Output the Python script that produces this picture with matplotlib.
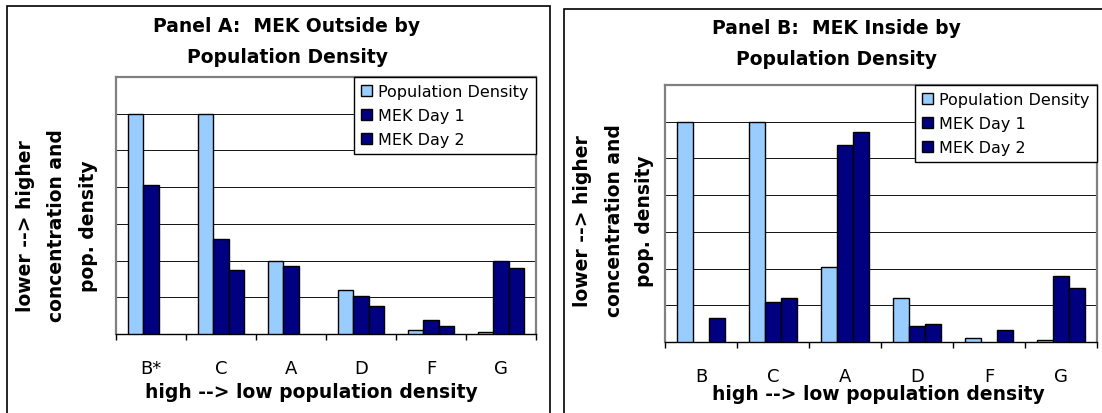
import numpy as np
import matplotlib
matplotlib.use('Agg')
import matplotlib.pyplot as plt
from matplotlib.patches import Rectangle

# categories, high --> low population density
sites_a = ['B*', 'C', 'A', 'D', 'F', 'G']
sites_b = ['B', 'C', 'A', 'D', 'F', 'G']

# panel A: outside (arbitrary scale 0-7)
pop_a = [6.0, 6.0, 2.0, 1.2, 0.12, 0.06]
day1_a = [4.05, 2.6, 1.85, 1.04, 0.39, 2.0]
day2_a = [0.0, 1.74, 0.0, 0.77, 0.23, 1.8]

# panel B: inside
pop_b = [6.0, 6.0, 2.03, 1.21, 0.12, 0.06]
day1_b = [0.0, 1.09, 5.36, 0.44, 0.0, 1.8]
day2_b = [0.66, 1.21, 5.73, 0.5, 0.33, 1.48]

series_names = ['Population Density', 'MEK Day 1', 'MEK Day 2']
colors = ['#99CCFF', '#000080', '#000080']

W, H = 1102, 414
fig = plt.figure(figsize=(W / 100, H / 100), dpi=100)
fig.patch.set_facecolor('white')


def fx(px):
    return px / W


def fy(py):
    return 1 - py / H


def panel(box, sites, pop, d1, d2, title, title_xy, ylab_xy, xlab_xy):
    left, top, right, bottom = box
    ax = fig.add_axes([fx(left), fy(bottom), fx(right - left), (bottom - top) / H])
    x = np.arange(len(sites))
    w = 2 / 9
    for i, (vals, c, name) in enumerate(zip([pop, d1, d2], colors, series_names)):
        v = np.array(vals, dtype=float)
        v[v <= 0] = np.nan  # empty values are not drawn
        ax.bar(x + (i - 1) * w, v, width=w, color=c, edgecolor='black',
               linewidth=1.0, label=name, zorder=3)
    ax.set_xlim(-0.5, len(sites) - 0.5)
    ax.set_ylim(0, 7)
    ax.set_yticks(np.arange(0, 8))
    ax.set_yticklabels([])
    ax.tick_params(axis='y', length=0)
    ax.grid(axis='y', color='#111111', linewidth=0.7, zorder=0)

    # ticks between categories, labels at the centres
    ax.set_xticks(np.arange(len(sites) + 1) - 0.5)
    ax.set_xticklabels([])
    ax.tick_params(axis='x', which='major', direction='out', length=4, width=1, color='black')
    ax.set_xticks(x, minor=True)
    ax.set_xticklabels(sites, minor=True, fontsize=13)
    ax.tick_params(axis='x', which='minor', length=0, pad=18)

    for s in ['top', 'right', 'left']:
        ax.spines[s].set_color('#808080')
        ax.spines[s].set_linewidth(1.6)
    ax.spines['bottom'].set_color('black')
    ax.spines['bottom'].set_linewidth(1.0)

    leg = ax.legend(loc='upper right', bbox_to_anchor=(1.0, 1.0), borderaxespad=0,
                    fontsize=11.5, fancybox=False, framealpha=1, edgecolor='black',
                    handlelength=0.7, handleheight=0.7, handletextpad=0.4,
                    borderpad=0.45, labelspacing=0.55)
    leg.get_frame().set_linewidth(1.0)
    leg.set_zorder(5)

    fig.text(fx(title_xy[0]), fy(title_xy[1]), title, ha='center', va='center',
             fontsize=13.5, fontweight='bold', linespacing=1.8)
    fig.text(fx(ylab_xy[0]), fy(ylab_xy[1]), 'lower --> higher\nconcentration and\npop. density',
             ha='center', va='center', rotation=90, multialignment='center',
             fontsize=13.5, fontweight='bold', linespacing=1.8)
    fig.text(fx(xlab_xy[0]), fy(xlab_xy[1]), 'high --> low population density',
             ha='center', va='center', fontsize=13.5, fontweight='bold')
    return ax


panel((116, 78, 536, 335), sites_a, pop_a, day1_a, day2_a,
      'Panel A:  MEK Outside by\nPopulation Density', (287, 42), (57, 226), (311, 393))
panel((665, 86, 1097, 343), sites_b, pop_b, day1_b, day2_b,
      'Panel B:  MEK Inside by\nPopulation Density', (836, 44), (614, 221), (878, 395))

# chart area borders (cut off at the bottom of the picture)
fig.add_artist(Rectangle((fx(7), fy(430)), fx(550 - 7), (430 - 6.5) / H,
                         transform=fig.transFigure, fill=False, edgecolor='black', linewidth=1.2))
fig.add_artist(Rectangle((fx(564), fy(430)), fx(1120 - 564), (430 - 10) / H,
                         transform=fig.transFigure, fill=False, edgecolor='black', linewidth=1.2))

fig.savefig('out.png', dpi=100)
